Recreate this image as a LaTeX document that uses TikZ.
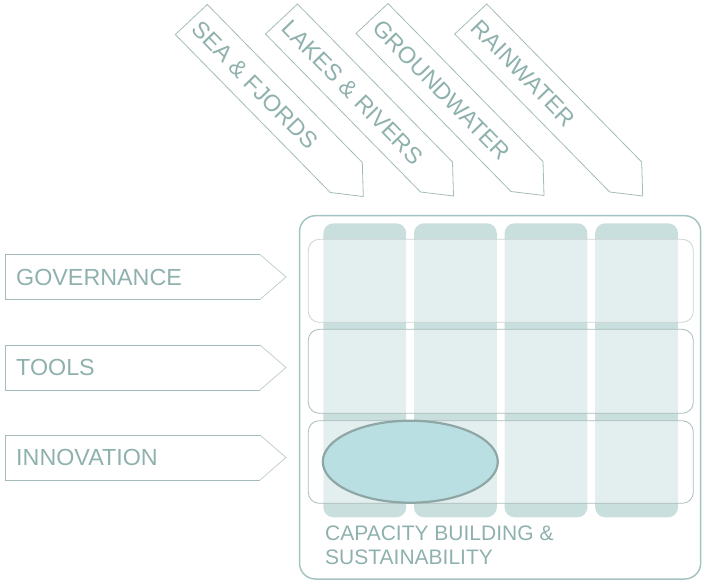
\documentclass[tikz,border=0pt]{standalone}
\usepackage{fontspec}
\usetikzlibrary{shapes.geometric}
\setmainfont{Liberation Sans}
\definecolor{txt}{HTML}{8FB1AE}
\definecolor{edge}{HTML}{A3BCBB}
\definecolor{edgelight}{HTML}{C2CFCE}
\definecolor{boxedge}{HTML}{A3C4C2}
\definecolor{colfill}{HTML}{C8DFDD}
\definecolor{rowedge}{HTML}{A8BCBB}
\definecolor{rowedgelight}{HTML}{CCD4D4}
\definecolor{ellfill}{HTML}{BADFE2}
\definecolor{elledge}{HTML}{8FA6A6}
\tikzset{
  toparrowline/.style={draw=edge, line width=0.8pt},
  toplabel/.style={text=txt, inner sep=0pt, rotate=-45.8, font=\fontsize{23.3}{27}\selectfont},
  leftlabel/.style={text=txt, inner sep=0pt, anchor=base west, font=\fontsize{23.3}{27}\selectfont},
  caplabel/.style={text=txt, inner sep=0pt, anchor=base west, font=\fontsize{21}{24}\selectfont},
  colbar/.style={fill=colfill, rounded corners=10pt},
  rowbox/.style={fill=white, fill opacity=0.5, draw=rowedge, draw opacity=1, line width=0.8pt, rounded corners=11pt},
}
\newcommand\TopArrow[4]{%
  \coordinate (#1tip) at (#2,#3);
  \draw[toparrowline] ([shift={(-188,-162)}]#1tip) -- ([shift={(-156,-192)}]#1tip)
     -- ([shift={(-1,-34)}]#1tip) -- (#1tip) -- ([shift={(-33,-4)}]#1tip) -- cycle;
  \node[toplabel, anchor=west] (#1label) at ([shift={(-167.1,-172)}]#1tip) {#4};
}
\newcommand\LeftArrow[4]{% name, top, bottom, text
  \draw[edgelight, line width=0.8pt] (260,#2) -- (286,{(#2+#3)/2}) -- (260,#3);
  \draw[edge, line width=0.8pt] (260,#2) -- (5.3,#2) -- (5.3,#3) -- (260,#3);
  \node[leftlabel] (#1) at (16,{(#2+#3)/2+8.3}) {#4};
}
\begin{document}
\begin{tikzpicture}[x=1pt,y=-1pt]
\useasboundingbox (0,0) rectangle (702,582);
% top arrows
\TopArrow{sea}{363.3}{196.5}{SEA \& FJORDS}
\TopArrow{lakes}{453.5}{196}{LAKES \& RIVERS}
\TopArrow{ground}{544}{195.5}{GROUNDWATER}
\TopArrow{rain}{642.7}{196}{RAINWATER}
% left arrows
\LeftArrow{gov}{254.5}{299.5}{GOVERNANCE}
\LeftArrow{tools}{345}{390}{TOOLS}
\LeftArrow{innov}{435}{480}{INNOVATION}
% outer box
\draw[boxedge, line width=1.5pt, rounded corners=16pt] (299.5,215.7) rectangle (700.7,579);
% columns
\foreach \i in {0,1,2,3} {
  \fill[colbar] ({323.4+90.6*\i},223.3) rectangle ({406.2+90.6*\i},517.3);
}
% rows
\draw[rowbox, draw=rowedgelight] (308.3,239.3) rectangle (693.3,322.3);
\draw[rowbox] (308.3,329.3) rectangle (693.3,413.3);
\draw[rowbox] (308.3,420.7) rectangle (693.3,503.3);
% ellipse
\node[draw=elledge, fill=ellfill, line width=2.2pt, ellipse, inner sep=0pt,
      minimum width=175pt, minimum height=82pt] (focus) at (410.3,461.7) {};
% capacity label
\node[caplabel] (cap1) at (325,540) {CAPACITY BUILDING \&};
\node[caplabel] (cap2) at (325,564.3) {SUSTAINABILITY};
\end{tikzpicture}
\end{document}
